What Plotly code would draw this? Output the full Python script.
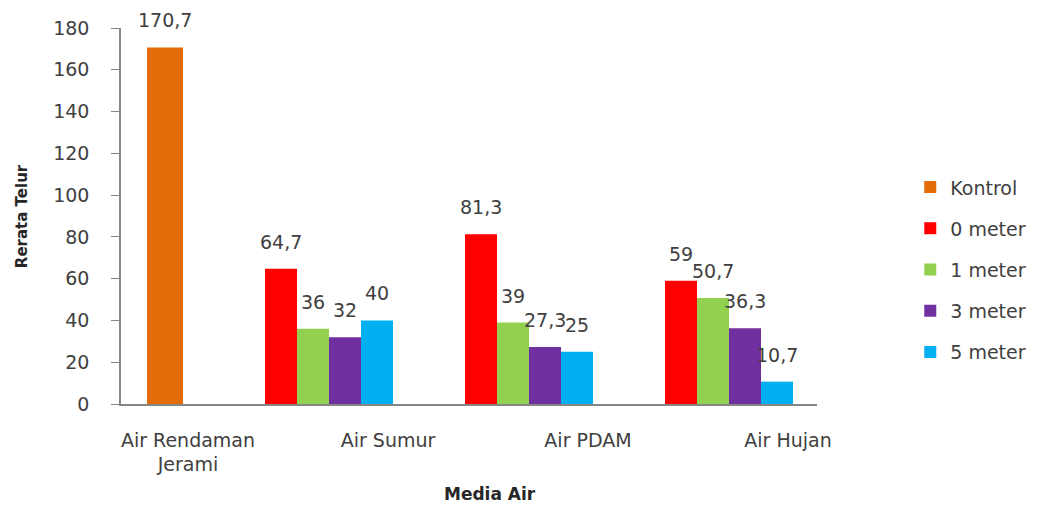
import plotly.graph_objects as go

categories = ["Air Rendaman<br>Jerami", "Air Sumur", "Air PDAM", "Air Hujan"]
series_names = ["Kontrol", "0 meter", "1 meter", "3 meter", "5 meter"]
kontrol = [170.7, None, None, None]
meter0 = [None, 64.7, 81.3, 59]
meter1 = [None, 36, 39, 50.7]
meter3 = [None, 32, 27.3, 36.3]
meter5 = [None, 40, 25, 10.7]
y_ticks = [0, 20, 40, 60, 80, 100, 120, 140, 160, 180]

values = [kontrol, meter0, meter1, meter3, meter5]
colors = ["#E36C09", "#FF0000", "#92D050", "#7030A0", "#00B0F0"]
offsets = [-0.205, -0.615, -0.455, -0.295, -0.135]
widths = [0.18, 0.16, 0.16, 0.16, 0.16]

W, H = 1043, 508
ML, MR, MT, MB = 121, 226, 28, 104
x_range = [-0.335, 3.145]
px_per_cat = (W - ML - MR) / (x_range[1] - x_range[0])

def fmt(v):
    if float(v).is_integer():
        return str(int(v))
    return f"{v:.1f}".replace(".", ",")

FONT = "DejaVu Sans"
TXT = "#404040"

fig = go.Figure()
annotations = []
for i, (name, vals) in enumerate(zip(series_names, values)):
    fig.add_trace(go.Bar(
        x=categories, y=vals, name=name,
        marker=dict(color=colors[i], line=dict(width=0)),
        offset=offsets[i], width=widths[i],
        legendgroup=name,
    ))
    for cat, v in zip(categories, vals):
        if v is None:
            continue
        annotations.append(dict(
            x=cat, y=v, xref="x", yref="y", text=fmt(v), showarrow=False,
            xanchor="center", yanchor="bottom",
            xshift=(offsets[i] + widths[i] / 2) * px_per_cat, yshift=14,
            font=dict(family=FONT, size=19, color=TXT),
        ))

annotations += [
    dict(text="<b>Rerata Telur</b>", xref="paper", yref="paper",
         x=-0.142, y=0.5, textangle=-90, showarrow=False,
         font=dict(family=FONT, size=15, color="#262626"),
         xanchor="center", yanchor="middle"),
    dict(text="<b>Media Air</b>", xref="paper", yref="paper",
         x=0.530, y=-0.239, showarrow=False,
         font=dict(family=FONT, size=17, color="#262626"),
         xanchor="center", yanchor="middle"),
]

fig.update_layout(
    width=W, height=H,
    margin=dict(l=ML, r=MR, t=MT, b=MB),
    plot_bgcolor="white", paper_bgcolor="white",
    barmode="overlay",
    showlegend=True,
    legend=dict(x=1.134, y=0.627, xanchor="left", yanchor="top",
                font=dict(family=FONT, size=19, color=TXT),
                tracegroupgap=13.5, itemwidth=30),
    xaxis=dict(type="category", range=x_range,
               showline=True, linecolor="#868686", linewidth=1.5,
               ticks="", tickfont=dict(family=FONT, size=19, color=TXT),
               ticklabelstandoff=18, showgrid=False),
    yaxis=dict(range=[0, 180], tickvals=y_ticks, showline=True,
               linecolor="#868686", linewidth=1.5, ticks="outside",
               ticklen=8, tickcolor="#868686", showgrid=False,
               zeroline=False,
               tickfont=dict(family=FONT, size=19, color=TXT),
               ticklabelstandoff=18),
    annotations=annotations,
)

fig.write_html("out.html")
